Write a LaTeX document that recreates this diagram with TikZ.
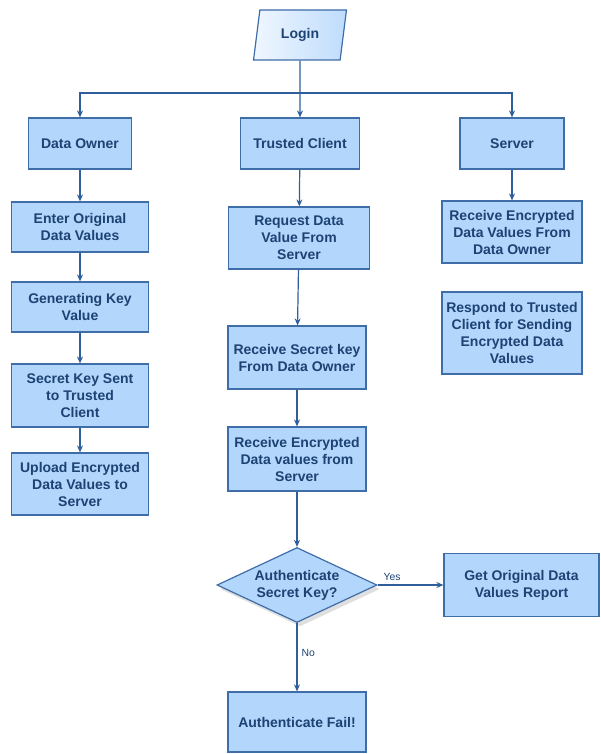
\documentclass[tikz,border=0pt]{standalone}
\usepackage{fontspec}
\setmainfont{Liberation Sans}
\usetikzlibrary{shapes.geometric,shadows,arrows.meta}
\definecolor{boxfill}{HTML}{B3D6FC}
\definecolor{boxline}{HTML}{3F6DA8}
\definecolor{boxtext}{HTML}{1D4273}
\definecolor{flowline}{HTML}{2F5F9A}

\begin{document}
\begin{tikzpicture}[x=0.5pt,y=-0.5pt,
    box/.style={rectangle,draw=boxline,fill=boxfill,line width=0.6pt,text=boxtext,
        font=\fontsize{7}{8.5}\selectfont\bfseries,align=center,inner sep=1pt},
    loginbox/.style={box,trapezium,trapezium left angle=79,trapezium right angle=101,
        trapezium stretches,minimum width=46.5pt,minimum height=25pt,
        left color=boxfill!20!white,right color=boxfill!85!white},
    decision/.style={box,diamond,aspect=2.13,minimum width=80pt,minimum height=37.5pt,
        inner sep=0pt,drop shadow={opacity=0.25,shadow xshift=1.5pt,shadow yshift=-2pt}},
    flow/.style={draw=flowline,line width=0.6pt,-{Stealth[length=3.5pt,width=3pt]}},
    lbl/.style={text=boxtext,font=\fontsize{5.2}{6}\selectfont,inner sep=2pt}]
    \useasboundingbox (0,0) rectangle (600,754);

    \node[loginbox] (L) at (300,35) {Login};
    \coordinate (bus) at (300,93);

    % top row
    \node[box,minimum width=51.5pt,minimum height=25.5pt] (DO) at (80,143.5) {Data Owner};
    \node[box,minimum width=59.5pt,minimum height=25.5pt] (TC) at (300,143.5) {Trusted Client};
    \node[box,minimum width=52pt,minimum height=25.5pt] (SV) at (512,143.5) {Server};

    % data owner column
    \node[box,minimum width=68.5pt,minimum height=25pt] (E1) at (80,227) {Enter Original\\Data Values};
    \node[box,minimum width=68.5pt,minimum height=25pt] (E2) at (80,307) {Generating Key\\Value};
    \node[box,minimum width=68.5pt,minimum height=31.5pt] (E3) at (80,395.5) {Secret Key Sent\\to Trusted\\Client};
    \node[box,minimum width=68.5pt,minimum height=31pt] (E4) at (80,484) {Upload Encrypted\\Data Values to\\Server};

    % trusted client column
    \node[box,minimum width=70.5pt,minimum height=31pt] (T1) at (299,238) {Request Data\\Value From\\Server};
    \node[box,minimum width=69pt,minimum height=31.5pt] (T2) at (297,357.5) {Receive Secret key\\From Data Owner};
    \node[box,minimum width=69pt,minimum height=32pt] (T3) at (297,459) {Receive Encrypted\\Data values from\\Server};
    \node[decision] (D) at (297,585) {Authenticate\\Secret Key?};
    \node[box,minimum width=77.5pt,minimum height=31.5pt] (G) at (521.5,585) {Get Original Data\\Values Report};
    \node[box,minimum width=69pt,minimum height=30pt] (F) at (297,722) {Authenticate Fail!};

    % server column
    \node[box,minimum width=70pt,minimum height=31pt] (S1) at (512,232) {Receive Encrypted\\Data Values From\\Data Owner};
    \node[box,minimum width=70pt,minimum height=41pt] (S2) at (512,333) {Respond to Trusted\\Client for Sending\\Encrypted Data\\Values};

    \draw[flow] (L) -- (TC);
    \draw[flow] (bus) -| (DO);
    \draw[flow] (bus) -| (SV);

    \draw[flow] (DO) -- (E1);
    \draw[flow] (E1) -- (E2);
    \draw[flow] (E2) -- (E3);
    \draw[flow] (E3) -- (E4);

    \draw[flow] (TC) -- (T1);
    \draw[flow] (T1) -- (T2);
    \draw[flow] (T2) -- (T3);
    \draw[flow] (T3) -- (D);
    \draw[flow] (D) -- node[lbl,pos=0.22,above] {Yes} (G);
    \draw[flow] (D) -- node[lbl,pos=0.43,right] {No} (F);

    \draw[flow] (SV) -- (S1);
\end{tikzpicture}
\end{document}
